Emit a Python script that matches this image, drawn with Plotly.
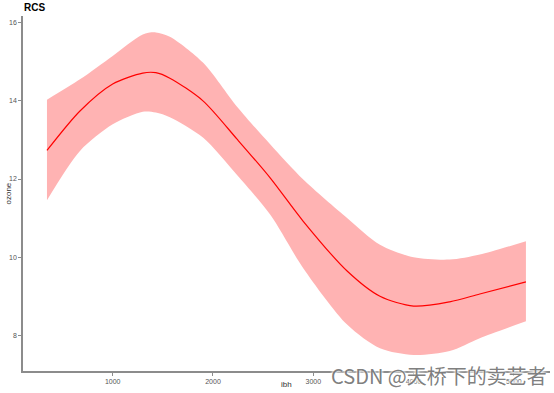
import plotly.graph_objects as go

# ibh positions
ibh = [345, 674, 1000, 1300, 1430, 1570, 1900, 2240, 2570, 2900, 3340, 3665, 4000, 4360, 4660, 5120]
fit = [12.73, 13.74, 14.43, 14.71, 14.72, 14.58, 14.00, 13.02, 12.03, 10.92, 9.64, 9.00, 8.75, 8.86, 9.06, 9.37]
upper = [14.03, 14.55, 15.15, 15.70, 15.75, 15.64, 14.98, 13.85, 12.89, 11.99, 11.00, 10.32, 10.00, 9.94, 10.07, 10.41]
lower = [11.46, 12.72, 13.40, 13.72, 13.70, 13.58, 13.06, 12.10, 11.09, 9.72, 8.27, 7.67, 7.50, 7.60, 7.93, 8.36]

x_ticks = [1000, 2000, 3000, 4000, 5000]
y_ticks = [8, 10, 12, 14, 16]

fig = go.Figure()
fig.add_trace(go.Scatter(x=ibh, y=upper, mode="lines", line=dict(width=0, shape="spline", smoothing=0.8),
                         showlegend=False, hoverinfo="skip"))
fig.add_trace(go.Scatter(x=ibh, y=lower, mode="lines", line=dict(width=0, shape="spline", smoothing=0.8),
                         fill="tonexty", fillcolor="#FFB3B3", showlegend=False, hoverinfo="skip"))
fig.add_trace(go.Scatter(x=ibh, y=fit, mode="lines",
                         line=dict(color="#FF0000", width=1.2, shape="spline", smoothing=0.8),
                         showlegend=False))

axis_common = dict(showgrid=False, zeroline=False, showline=True, linecolor="#8c8c8c", linewidth=1.5,
                   ticks="outside", ticklen=3, tickcolor="#8c8c8c", tickwidth=1, automargin=False,
                   tickfont=dict(family="Liberation Sans, Arial", size=7, color="#555555"))

fig.update_layout(
    width=554, height=393,
    margin=dict(l=23, r=4, t=16, b=22),
    paper_bgcolor="white", plot_bgcolor="white",
    xaxis=dict(range=[106, 5360], tickvals=x_ticks, ticktext=[str(v) for v in x_ticks], **axis_common),
    yaxis=dict(range=[7.09, 16.17], tickvals=y_ticks, ticktext=[str(v) for v in y_ticks], **axis_common),
    annotations=[
        dict(text="<b>RCS</b>", xref="paper", yref="paper", x=-0.002, y=1.0, yshift=1,
             xanchor="left", yanchor="bottom", showarrow=False,
             font=dict(family="Liberation Sans, Arial", size=10, color="black")),
        dict(text="ibh", xref="paper", yref="paper", x=0.5, y=0, yshift=-13,
             xanchor="center", yanchor="middle", showarrow=False,
             font=dict(family="Liberation Sans, Arial", size=8, color="#333333")),
        dict(text="ozone", xref="paper", yref="paper", x=0, y=0.5, xshift=-15, textangle=-90,
             xanchor="center", yanchor="middle", showarrow=False,
             font=dict(family="Liberation Sans, Arial", size=8, color="#333333")),
        dict(text="CSDN @天桥下的卖艺者", xref="paper", yref="paper", x=0.79, y=0, yshift=-4,
             xanchor="center", yanchor="middle", showarrow=False,
             font=dict(family="Noto Sans CJK SC", size=20, color="rgba(110,110,110,0.9)",
                       shadow="0 0 3px white, 0 0 3px white, 0 0 3px white")),
    ],
)

fig.write_html("out.html", post_script="document.body.style.margin='0';",
               config={"displayModeBar": False})
